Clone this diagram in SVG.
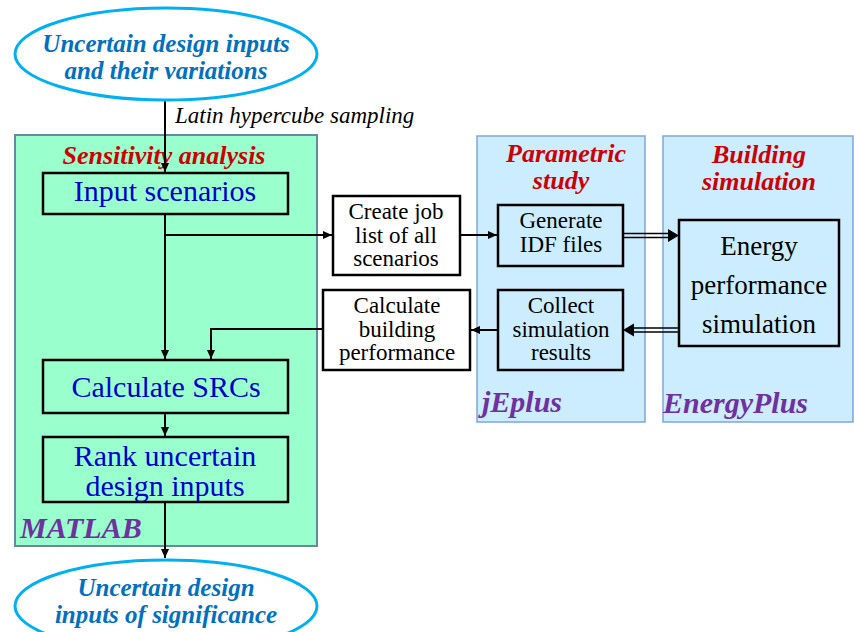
<svg xmlns="http://www.w3.org/2000/svg" width="854" height="632" viewBox="0 0 854 632">
<style>
text{font-family:'Liberation Serif','Times New Roman','DejaVu Serif',serif}
.ell{fill:#fff;stroke:#00B0F0;stroke-width:3}
.elt{font-weight:bold;font-style:italic;font-size:25px;fill:#0070C0;text-anchor:middle}
.panelg{fill:#99FFCC;stroke:#6688AA;stroke-width:2}
.panelb{fill:#CCECFF;stroke:#7FA6DC;stroke-width:1.5}
.title{font-weight:bold;font-style:italic;font-size:26px;fill:#CC0000;text-anchor:middle}
.tool{font-weight:bold;font-style:italic;font-size:30px;fill:#7030A0}
.gbox{fill:#99FFCC;stroke:#000;stroke-width:2.5}
.bbox{fill:#CCECFF;stroke:#000;stroke-width:2.5}
.wbox{fill:#fff;stroke:#000;stroke-width:2.5}
.gt{font-size:30px;fill:#0000CC;text-anchor:middle}
.bt{font-size:23px;fill:#000;text-anchor:middle}
.big{font-size:27px;fill:#000;text-anchor:middle}
.lhs{font-style:italic;font-size:23px;fill:#000}
.ln{fill:none;stroke:#000;stroke-width:2}
.dl{fill:none;stroke:#000;stroke-width:1.3}
</style>
<defs>
<marker id="ah" markerWidth="10" markerHeight="10" refX="9" refY="5" orient="auto" markerUnits="userSpaceOnUse">
<path d="M0,1 L9,5 L0,9 z" fill="#000"/>
</marker>
</defs>
<g id="panel-matlab">
<rect class="panelg" x="15" y="135" width="302" height="411"/>
<text class="title" x="164" y="164" font-size="28">Sensitivity analysis</text>
<text class="tool" x="20" y="538">MATLAB</text>
</g>
<g id="panel-jeplus">
<rect class="panelb" x="477" y="136" width="168" height="286"/>
<text class="title" x="566" y="162">Parametric</text>
<text class="title" x="561" y="189">study</text>
<text class="tool" x="482" y="412">jEplus</text>
</g>
<g id="panel-energyplus">
<rect class="panelb" x="663" y="136" width="190" height="286"/>
<text class="title" x="759" y="163">Building</text>
<text class="title" x="759" y="190">simulation</text>
<text class="tool" x="663" y="413">EnergyPlus</text>
</g>
<g id="connectors">
<line class="ln" x1="165" y1="100" x2="165" y2="172" marker-end="url(#ah)"/>
<text class="lhs" x="175" y="123">Latin hypercube  sampling</text>
<line class="ln" x1="165" y1="214" x2="165" y2="359" marker-end="url(#ah)"/>
<line class="ln" x1="165" y1="235" x2="332" y2="235" marker-end="url(#ah)"/>
<line class="ln" x1="460" y1="235" x2="497" y2="235" marker-end="url(#ah)"/>
<line class="dl" x1="623" y1="233.5" x2="670" y2="233.5"/>
<line class="dl" x1="623" y1="237.5" x2="670" y2="237.5"/>
<path d="M668,229 L679,235.5 L668,242 z" fill="#000"/>
<line class="dl" x1="679" y1="328" x2="632" y2="328"/>
<line class="dl" x1="679" y1="332" x2="632" y2="332"/>
<path d="M634,323.5 L623,330 L634,336.5 z" fill="#000"/>
<line class="ln" x1="498" y1="330" x2="471" y2="330" marker-end="url(#ah)"/>
<polyline class="ln" points="323,329 211,329 211,359" marker-end="url(#ah)"/>
<line class="ln" x1="165" y1="413" x2="165" y2="436" marker-end="url(#ah)"/>
<line class="ln" x1="165" y1="502" x2="165" y2="558" marker-end="url(#ah)"/>
</g>
<g id="n-inputs">
<ellipse class="ell" cx="166" cy="54" rx="151" ry="46"/>
<text class="elt" x="166" y="52">Uncertain design inputs</text>
<text class="elt" x="166" y="79">and their variations</text>
</g>
<g id="n-scenarios">
<rect class="gbox" x="43" y="173" width="245" height="41"/>
<text class="gt" x="165" y="201">Input scenarios</text>
</g>
<g id="n-src">
<rect class="gbox" x="43" y="360" width="245" height="53"/>
<text class="gt" x="166" y="397">Calculate SRCs</text>
</g>
<g id="n-rank">
<rect class="gbox" x="43" y="437" width="245" height="65"/>
<text class="gt" x="165" y="466" font-size="28">Rank uncertain</text>
<text class="gt" x="165" y="496" font-size="28">design inputs</text>
</g>
<g id="n-createjob">
<rect class="wbox" x="333" y="196" width="127" height="79"/>
<text class="bt" x="396" y="219">Create job</text>
<text class="bt" x="396" y="243">list of all</text>
<text class="bt" x="396" y="266">scenarios</text>
</g>
<g id="n-generate">
<rect class="bbox" x="498" y="205" width="125" height="61"/>
<text class="bt" x="561" y="228">Generate</text>
<text class="bt" x="561" y="252">IDF files</text>
</g>
<g id="n-energy">
<rect class="bbox" x="679" y="220" width="160" height="126"/>
<text class="big" x="759" y="255">Energy</text>
<text class="big" x="759" y="294">performance</text>
<text class="big" x="759" y="333">simulation</text>
</g>
<g id="n-collect">
<rect class="bbox" x="498" y="290" width="125" height="80"/>
<text class="bt" x="561" y="313">Collect</text>
<text class="bt" x="561" y="337">simulation</text>
<text class="bt" x="561" y="360">results</text>
</g>
<g id="n-calcperf">
<rect class="wbox" x="323" y="290" width="147" height="80"/>
<text class="bt" x="397" y="313">Calculate</text>
<text class="bt" x="397" y="337">building</text>
<text class="bt" x="397" y="360">performance</text>
</g>
<g id="n-significant">
<ellipse class="ell" cx="166" cy="606" rx="151" ry="46"/>
<text class="elt" x="166" y="596">Uncertain design</text>
<text class="elt" x="166" y="623">inputs of significance</text>
</g>
</svg>
